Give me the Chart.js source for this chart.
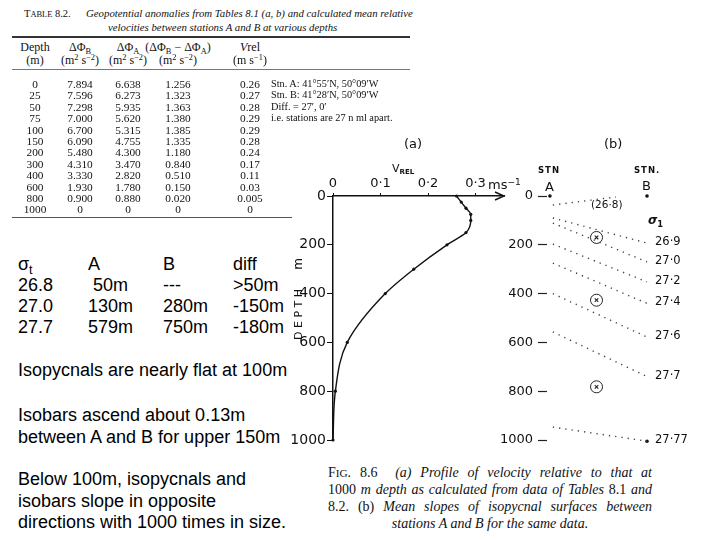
<!DOCTYPE html>
<html>
<head>
<meta charset="utf-8">
<script src="https://cdn.jsdelivr.net/npm/chart.js@4.4.1/dist/chart.umd.min.js"></script>
<style>
  body { margin: 0; width: 720px; height: 540px; position: relative; background: #fff; overflow: hidden; font-family: "Liberation Sans", Arial, sans-serif; }
  .abs { position: absolute; white-space: pre; }
  .tb { font-family: "Liberation Serif", "DejaVu Serif", serif; color: #111; font-size: 11.3px; line-height: 12px; text-align: center; width: 70px; }
  .th { font-size: 12px; line-height: 13px; }
  .sb { font-size: 0.7em; position: relative; top: 0.3em; }
  .sp { font-size: 0.7em; position: relative; top: -0.45em; }
  .txt { font-size: 18px; line-height: 21.5px; color: #000; }
  .fig { font-family: "DejaVu Sans", sans-serif; color: #111; }
  .cap { font-family: "Liberation Serif", serif; font-style: italic; font-size: 14px; line-height: 17px; width: 324px; text-align: justify; text-align-last: justify; color: #111; white-space: normal; }
  canvas { position: absolute; }
</style>
</head>
<body>
<canvas id="velChart" width="230" height="290" style="left:290px;top:170px"></canvas>
<canvas id="isoChart" width="228" height="290" style="left:490px;top:170px"></canvas>
<script>
// Table 8.2 values
const depths = [0, 25, 50, 75, 100, 150, 200, 300, 400, 600, 800, 1000];
const phiB = ['7.894', '7.596', '7.298', '7.000', '6.700', '6.090', '5.480', '4.310', '3.330', '1.930', '0.900', '0'];
const phiA = ['6.638', '6.273', '5.935', '5.620', '5.315', '4.755', '4.300', '3.470', '2.820', '1.780', '0.880', '0'];
const phiDiff = ['1.256', '1.323', '1.363', '1.380', '1.385', '1.335', '1.180', '0.840', '0.510', '0.150', '0.020', '0'];
const vrel = ['0.26', '0.27', '0.28', '0.29', '0.29', '0.28', '0.24', '0.17', '0.11', '0.03', '0.005', '0'];
const stnNotes = ['Stn. A: 41°55′N, 50°09′W', 'Stn. B: 41°28′N, 50°09′W', 'Diff. = 27′, 0′', 'i.e. stations are 27 n ml apart.'];

// axis ticks
const velTicks = [0, 0.1, 0.2, 0.3];
const depthTicks = [0, 200, 400, 600, 800, 1000];

// isopycnals between stations A (x=0) and B (x=1)
const sigmaLabels = ['26·8', '26·9', '27·0', '27·2', '27·4', '27·6', '27·7', '27·77'];
const isoDepthA = [37, 90, 111, 197, 275, 400, 557, 947];
const isoDepthB = [4, 193, 270, 352, 440, 578, 740, 1005];
const isoEndX = [0.68, 1, 1, 1, 1, 1, 1, 1];
const crossDepths = [170, 427, 782];

// left-hand text
const sigmaRows = [
    ['σ<span class="sb">t</span>', 'A', 'B', 'diff'],
    ['26.8', ' 50m', '---', '>50m'],
    ['27.0', '130m', '280m', '-150m'],
    ['27.7', '579m', '750m', '-180m']
];
const notes = [
    ['Isopycnals are nearly flat at 100m'],
    ['Isobars ascend about 0.13m', 'between A and B for upper 150m'],
    ['Below 100m, isopycnals and', 'isobars slope in opposite', 'directions with 1000 times in size.']
];

function put(html, left, top, cls, style) {
    const d = document.createElement('div');
    d.className = 'abs ' + (cls || '');
    d.innerHTML = html;
    d.style.left = left + 'px';
    d.style.top = top + 'px';
    if (style) d.style.cssText += style;
    document.body.appendChild(d);
    return d;
}
function rule(left, top, width, h, color) {
    put('', left, top, '', `width:${width}px;height:${h}px;background:${color}`);
}

// ---- the scanned table ----
put('T<span style="font-size:0.8em">ABLE</span> 8.2.', 24, 7, 'tb', 'width:auto;text-align:left;font-size:10.5px;line-height:13px');
put('Geopotential anomalies from Tables 8.1 (a, b) and calculated mean relative', 86, 7, 'tb', 'width:auto;text-align:left;font-style:italic;font-size:10.8px;line-height:13px');
put('velocities between stations A and B at various depths', 108, 21, 'tb', 'width:auto;text-align:left;font-style:italic;font-size:10.8px;line-height:13px');
rule(12, 36, 398, 1.5, '#333');
const colCenters = [35, 80, 128, 178, 250];
const head1 = ['Depth', 'ΔΦ<span class="sb">B</span>', 'ΔΦ<span class="sb">A</span>', '(ΔΦ<span class="sb">B</span> − ΔΦ<span class="sb">A</span>)', '<i>V</i>rel'];
const head2 = ['(m)', '(m<span class="sp">2</span> s<span class="sp">−2</span>)', '(m<span class="sp">2</span> s<span class="sp">−2</span>)', '(m<span class="sp">2</span> s<span class="sp">−2</span>)', '(m s<span class="sp">−1</span>)'];
head1.forEach((h, i) => put(h, colCenters[i] - 35, 41, 'tb th'));
head2.forEach((h, i) => put(h, colCenters[i] - 35, 54, 'tb th'));
rule(12, 69, 398, 1, '#777');
const cols = [depths.map(String), phiB, phiA, phiDiff, vrel];
depths.forEach((d, r) => {
    cols.forEach((c, i) => put(c[r], colCenters[i] - 35, 78 + r * 11.4, 'tb'));
});
stnNotes.forEach((s, r) => put(s, 271, 78 + r * 11.4, 'tb', 'width:auto;text-align:left;font-size:10.3px'));
rule(12, 217, 280, 1.2, '#555');

// ---- left text ----
const sigmaCols = [18, 88, 163, 233];
sigmaRows.forEach((row, r) => row.forEach((t, i) => put(t, sigmaCols[i], 254 + r * 21, 'txt')));
put(notes[0].join('<br>'), 18, 360, 'txt');
put(notes[1].join('<br>'), 18, 405, 'txt');
put(notes[2].join('<br>'), 18, 469, 'txt');

// ---- figure labels ----
put('(a)', 404, 136, 'fig', 'font-size:13px');
put('V<span style="font-size:7px;font-weight:bold;position:relative;top:2px">REL</span>', 392, 162, 'fig', 'font-size:11px');
put('ms<span class="sp">−1</span>', 488, 177, 'fig', 'font-size:13px');
put('D E P T H', 298 - 34, 316 - 8, 'fig', 'font-size:11px;width:68px;text-align:center;transform:rotate(-90deg)');
put('m', 292, 257, 'fig', 'font-size:12px;transform:rotate(-90deg)');
put('(b)', 604, 136, 'fig', 'font-size:13px');
put('STN', 538, 165, 'fig', 'font-size:8.5px;font-weight:bold;letter-spacing:1px');
put('A', 545, 179, 'fig', 'font-size:13px');
put('STN.', 634, 165, 'fig', 'font-size:8.5px;font-weight:bold;letter-spacing:1px');
put('B', 642, 178, 'fig', 'font-size:13px');
put('(26·8)', 591, 198, 'fig', 'font-size:10.5px');
put('<i>σ</i><span class="sb">1</span>', 648, 213, 'fig', 'font-size:12px;font-weight:bold');

// ---- caption ----
const cap = [
    '<span style="font-style:normal">F<span style="font-size:0.8em">IG</span>. 8.6</span>&nbsp; (a) Profile of velocity relative to that at',
    '<span style="font-style:normal">1000</span> m depth as calculated from data of Tables <span style="font-style:normal">8.1</span> and',
    '<span style="font-style:normal">8.2. (b)</span> Mean slopes of isopycnal surfaces between'
];
cap.forEach((c, i) => put(c, 328, 464 + i * 17, 'cap'));
put('stations A and B for the same data.', 328, 464 + 3 * 17, 'cap', 'text-align:center;text-align-last:center');

// ---- charts ----
Chart.defaults.font.family = 'DejaVu Sans';
Chart.defaults.color = '#111';

const arrowHead = {
    id: 'arrowHead',
    afterDraw(chart) {
        const ctx = chart.ctx;
        const x = chart.scales.x.getPixelForValue(chart.scales.x.max);
        const y = chart.chartArea.top;
        ctx.save();
        ctx.strokeStyle = '#111';
        ctx.lineWidth = 1.4;
        ctx.beginPath();
        ctx.moveTo(x - 9, y - 4);
        ctx.lineTo(x, y);
        ctx.lineTo(x - 9, y + 4);
        ctx.stroke();
        ctx.restore();
    }
};

new Chart(document.getElementById('velChart'), {
    type: 'scatter',
    data: {
        datasets: [{
            data: depths.map((d, i) => ({ x: Number(vrel[i]), y: d })),
            showLine: true,
            indexAxis: 'y',
            cubicInterpolationMode: 'monotone',
            borderColor: '#111',
            borderWidth: 1.4,
            pointRadius: 1.6,
            pointBorderWidth: 0,
            pointBackgroundColor: '#111',
            clip: false
        }]
    },
    options: {
        responsive: false,
        animation: false,
        layout: { padding: { left: 0, top: 0, right: 16, bottom: 20 } },
        plugins: { legend: { display: false }, tooltip: { enabled: false } },
        scales: {
            x: {
                type: 'linear', position: 'top', min: 0, max: 0.36,
                afterBuildTicks: s => { s.ticks = velTicks.map(v => ({ value: v })); },
                afterFit: s => { s.height = 26; },
                border: { display: true, color: '#111', width: 1.5 },
                grid: { drawOnChartArea: false, drawTicks: true, tickLength: 3, color: '#111' },
                ticks: {
                    font: { size: 13 }, padding: 2, maxRotation: 0, autoSkip: false,
                    callback: v => v === 0 ? '0' : v.toFixed(1).replace('.', '·')
                }
            },
            y: {
                type: 'linear', reverse: true, min: 0, max: 1000,
                afterBuildTicks: s => { s.ticks = depthTicks.map(v => ({ value: v })); },
                afterFit: s => { s.width = 43; },
                border: { display: true, color: '#111', width: 1.5 },
                grid: { drawOnChartArea: false, drawTicks: true, tickLength: 6, color: '#111' },
                ticks: { font: { size: 14 }, padding: 1, autoSkip: false, callback: v => String(v) }
            }
        }
    },
    plugins: [arrowHead]
});

const sigmaText = {
    id: 'sigmaText',
    afterDatasetsDraw(chart) {
        const ctx = chart.ctx;
        ctx.save();
        ctx.font = '11.5px "DejaVu Sans"';
        ctx.fillStyle = '#111';
        ctx.textBaseline = 'middle';
        for (let i = 1; i < sigmaLabels.length; i++) {
            const pts = chart.getDatasetMeta(i).data;
            const p = pts[pts.length - 1];
            ctx.fillText(sigmaLabels[i], p.x + 8, p.y - 1);
        }
        ctx.restore();
    }
};

const isoSets = sigmaLabels.map((s, i) => ({
    data: [{ x: 0.03, y: isoDepthA[i] }, { x: isoEndX[i], y: isoDepthB[i] }],
    showLine: true,
    borderColor: '#444',
    borderWidth: 1.4,
    borderDash: [1.3, 5],
    pointRadius: 0,
    clip: false
}));

new Chart(document.getElementById('isoChart'), {
    type: 'scatter',
    data: {
        datasets: [
            ...isoSets,
            {
                data: [{ x: 0, y: 0 }, { x: 1, y: 0 }, { x: 1, y: isoDepthB[7] }],
                pointRadius: 1.8, pointBorderWidth: 0, pointBackgroundColor: '#111', clip: false
            },
            {
                data: crossDepths.map(d => ({ x: 0.48, y: d })),
                pointStyle: 'circle', pointRadius: 6, borderColor: '#222', borderWidth: 1,
                backgroundColor: 'rgba(0,0,0,0)', clip: false
            },
            {
                data: crossDepths.map(d => ({ x: 0.48, y: d })),
                pointStyle: 'crossRot', pointRadius: 2.5, borderColor: '#222', borderWidth: 1.1, clip: false
            }
        ]
    },
    options: {
        responsive: false,
        animation: false,
        layout: { padding: { left: 0, top: 26, right: 71, bottom: 20 } },
        plugins: { legend: { display: false }, tooltip: { enabled: false } },
        scales: {
            x: { type: 'linear', display: false, min: -0.03, max: 1 },
            y: {
                type: 'linear', reverse: true, min: 0, max: 1000,
                afterBuildTicks: s => { s.ticks = depthTicks.map(v => ({ value: v })); },
                afterFit: s => { s.width = 57; },
                border: { display: false },
                grid: { drawOnChartArea: false, drawTicks: true, tickLength: 9, tickWidth: 1.2, color: '#222' },
                ticks: { font: { size: 13 }, padding: 5, autoSkip: false, callback: v => String(v) }
            }
        }
    },
    plugins: [sigmaText]
});
</script>
</body>
</html>
